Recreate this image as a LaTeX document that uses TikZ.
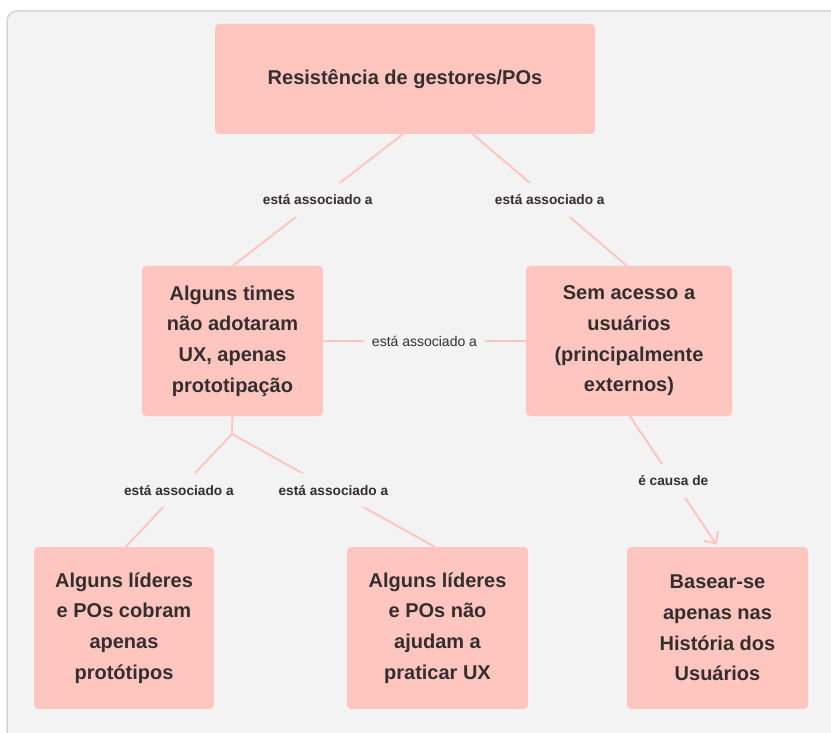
\documentclass[tikz,border=0pt]{standalone}
\usepackage{fontspec}
\setmainfont{Liberation Sans}
\usetikzlibrary{arrows.meta}
\definecolor{boxpink}{HTML}{FFC6C0}
\definecolor{panelgray}{HTML}{F3F3F3}
\definecolor{paneledge}{HTML}{D6D6D6}
\definecolor{inkdark}{HTML}{342E2E}
\tikzset{
  concept/.style={fill=boxpink, rounded corners=4pt, align=center, text=inkdark,
    font=\fontsize{20}{30.7}\selectfont\bfseries, inner sep=0pt},
  link/.style={draw=boxpink, line width=2pt},
  linklabel/.style={fill=panelgray, text=inkdark,
    font=\fontsize{13.7}{16}\selectfont\bfseries,
    minimum height=34pt, inner xsep=4pt, inner ysep=0pt},
  plainlabel/.style={fill=panelgray, text=inkdark,
    font=\fontsize{14}{16}\selectfont, inner xsep=8pt, inner ysep=3pt},
}
\begin{document}
\begin{tikzpicture}[x=1pt,y=-1pt]
  % page and panel
  \fill[white] (0,0) rectangle (831,733);
  \useasboundingbox (0,0) rectangle (831,733);
  \clip (0,0) rectangle (831,733);
  \draw[fill=panelgray, draw=paneledge, line width=1.5pt, rounded corners=10pt]
    (7,11) rectangle (850,760);

  % concepts
  \node[concept, minimum width=380pt, minimum height=110pt] (top) at (405,79)
    {Resistência de gestores/POs};
  \node[concept, minimum width=181pt, minimum height=150pt] (ml) at (232.5,341)
    {Alguns times\\não adotaram\\UX, apenas\\prototipação};
  \node[concept, minimum width=206pt, minimum height=150pt] (mr) at (629,341)
    {Sem acesso a\\usuários\\(principalmente\\externos)};
  \node[concept, minimum width=180pt, minimum height=162pt] (bl) at (124,628)
    {Alguns líderes\\e POs cobram\\apenas\\protótipos};
  \node[concept, minimum width=181pt, minimum height=162pt] (bm) at (437.5,628)
    {Alguns líderes\\e POs não\\ajudam a\\praticar UX};
  \node[concept, minimum width=181pt, minimum height=162pt] (br) at (717.5,628)
    {Basear-se\\apenas nas\\História dos\\Usuários};

  % links
  \draw[link] ([xshift=188]top.south west) -- node[linklabel]{está associado a}
    ([xshift=91]ml.north west);
  \draw[link] ([xshift=258]top.south west) -- node[linklabel]{está associado a}
    ([xshift=101]mr.north west);
  \draw[link] (ml.east) -- node[plainlabel]{está associado a} (mr.west);

  \coordinate (fork) at (232,434);
  \draw[link] (ml.south) -- (fork);
  \draw[link] (fork) -- node[linklabel]{está associado a} ([xshift=92]bl.north west);
  \draw[link] (fork) -- node[linklabel]{está associado a} ([xshift=88]bm.north west);

  \draw[link, -{Straight Barb[length=9pt,width=17pt]}]
    ([xshift=104]mr.south west) -- node[linklabel]{é causa de}
    ([xshift=90,yshift=2]br.north west);
\end{tikzpicture}
\end{document}
